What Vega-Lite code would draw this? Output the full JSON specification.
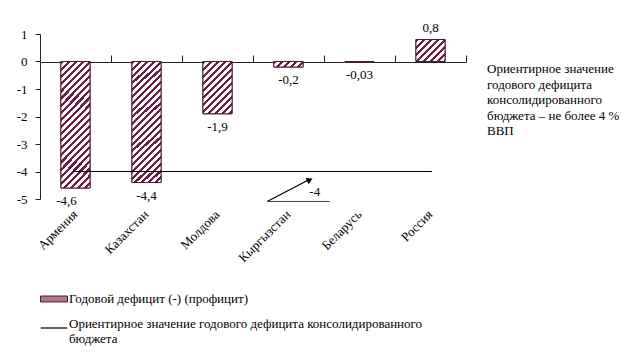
{
  "$schema": "https://vega.github.io/schema/vega-lite/v6.json",
  "autosize": {"type": "none"},
  "width": 426,
  "height": 165,
  "padding": {"left": 40, "top": 34, "right": 177, "bottom": 159},
  "background": "white",
  "config": {
    "view": {"stroke": null},
    "locale": {"number": {"decimal": ",", "thousands": " ", "grouping": [3], "currency": ["", ""], "minus": "-"}},
    "font": "Liberation Serif",
    "text": {"font": "Liberation Serif", "fontSize": 13, "color": "black"},
    "axisY": {"title": null, "values": [-5, -4, -3, -2, -1, 0, 1], "format": "d",
              "grid": false, "domainColor": "#222", "tickColor": "#222",
              "tickSize": 5, "labelPadding": 8, "labelFont": "Liberation Serif",
              "labelFontSize": 13, "labelColor": "black", "labelOverlap": false},
    "axisTop": {"ticks": true, "tickSize": 7, "tickWidth": 1, "tickOpacity": 1, "domainColor": "#222", "tickColor": "#222", "grid": false, "labels": false, "title": null}
  },
  "resolve": {"scale": {"x": "independent"}},
  "layer": [
    {
      "data": {"values": [
        {"country": "Армения", "value": -4.6},
        {"country": "Казахстан", "value": -4.4},
        {"country": "Молдова", "value": -1.9},
        {"country": "Кыргызстан", "value": -0.2},
        {"country": "Беларусь", "value": -0.03},
        {"country": "Россия", "value": 0.8}
      ]},
      "encoding": {
        "x": {"field": "country", "type": "nominal", "sort": null,
              "scale": {"paddingInner": 0, "paddingOuter": 0},
              "axis": {"title": null, "orient": "bottom", "domain": false, "ticks": false,
                       "labelAngle": -45, "labelAlign": "right", "labelBaseline": "middle",
                       "labelPadding": 13, "labelFont": "Liberation Serif", "labelFontSize": 13,
                       "labelColor": "black", "labelOverlap": false}},
        "y": {"field": "value", "type": "quantitative",
              "scale": {"domain": [-5, 1], "nice": false, "zero": false}}
      },
      "layer": [
        {
          "mark": {"type": "bar", "width": {"band": 0.41}, "stroke": "#4a1a33", "strokeWidth": 1},
          "encoding": {
            "fill": {"datum": "Годовой дефицит (-) (профицит)", "type": "nominal",
                     "scale": {"range": ["#b0788f"]},
                     "legend": {"orient": "none", "legendX": 0, "legendY": 251, "title": null,
                                "symbolType": "M-1,-0.22L1,-0.22L1,0.22L-1,0.22Z", "symbolSize": 729,
                                "symbolStrokeColor": "#4a1a33", "symbolStrokeWidth": 1,
                                "labelFont": "Liberation Serif", "labelFontSize": 13,
                                "labelColor": "black", "labelOffset": 1, "labelLimit": 500}}
          }
        },
        {
          "transform": [{"filter": "datum.country === 'Армения' || datum.country === 'Казахстан'"}],
          "mark": {"type": "bar", "width": {"band": 0.41}, "stroke": "#4a1a33", "strokeWidth": 1,
                   "fill": {"gradient": "linear", "x1": 0, "y1": 0, "x2": 0.275, "y2": 1.17, "stops": [
                     {"offset": 0, "color": "#6e1f45"}, {"offset": 0.0205, "color": "#6e1f45"}, {"offset": 0.0205, "color": "#ffffff"}, {"offset": 0.0455, "color": "#ffffff"},
                     {"offset": 0.0455, "color": "#6e1f45"}, {"offset": 0.066, "color": "#6e1f45"}, {"offset": 0.066, "color": "#ffffff"}, {"offset": 0.091, "color": "#ffffff"},
                     {"offset": 0.091, "color": "#6e1f45"}, {"offset": 0.1115, "color": "#6e1f45"}, {"offset": 0.1115, "color": "#ffffff"}, {"offset": 0.1365, "color": "#ffffff"},
                     {"offset": 0.1365, "color": "#6e1f45"}, {"offset": 0.157, "color": "#6e1f45"}, {"offset": 0.157, "color": "#ffffff"}, {"offset": 0.182, "color": "#ffffff"},
                     {"offset": 0.182, "color": "#6e1f45"}, {"offset": 0.2025, "color": "#6e1f45"}, {"offset": 0.2025, "color": "#ffffff"}, {"offset": 0.2275, "color": "#ffffff"},
                     {"offset": 0.2275, "color": "#6e1f45"}, {"offset": 0.248, "color": "#6e1f45"}, {"offset": 0.248, "color": "#ffffff"}, {"offset": 0.273, "color": "#ffffff"},
                     {"offset": 0.273, "color": "#6e1f45"}, {"offset": 0.2935, "color": "#6e1f45"}, {"offset": 0.2935, "color": "#ffffff"}, {"offset": 0.3185, "color": "#ffffff"},
                     {"offset": 0.3185, "color": "#6e1f45"}, {"offset": 0.339, "color": "#6e1f45"}, {"offset": 0.339, "color": "#ffffff"}, {"offset": 0.364, "color": "#ffffff"},
                     {"offset": 0.364, "color": "#6e1f45"}, {"offset": 0.3845, "color": "#6e1f45"}, {"offset": 0.3845, "color": "#ffffff"}, {"offset": 0.4095, "color": "#ffffff"},
                     {"offset": 0.4095, "color": "#6e1f45"}, {"offset": 0.43, "color": "#6e1f45"}, {"offset": 0.43, "color": "#ffffff"}, {"offset": 0.455, "color": "#ffffff"},
                     {"offset": 0.455, "color": "#6e1f45"}, {"offset": 0.4755, "color": "#6e1f45"}, {"offset": 0.4755, "color": "#ffffff"}, {"offset": 0.5005, "color": "#ffffff"},
                     {"offset": 0.5005, "color": "#6e1f45"}, {"offset": 0.521, "color": "#6e1f45"}, {"offset": 0.521, "color": "#ffffff"}, {"offset": 0.546, "color": "#ffffff"},
                     {"offset": 0.546, "color": "#6e1f45"}, {"offset": 0.5665, "color": "#6e1f45"}, {"offset": 0.5665, "color": "#ffffff"}, {"offset": 0.5915, "color": "#ffffff"},
                     {"offset": 0.5915, "color": "#6e1f45"}, {"offset": 0.612, "color": "#6e1f45"}, {"offset": 0.612, "color": "#ffffff"}, {"offset": 0.637, "color": "#ffffff"},
                     {"offset": 0.637, "color": "#6e1f45"}, {"offset": 0.6575, "color": "#6e1f45"}, {"offset": 0.6575, "color": "#ffffff"}, {"offset": 0.6825, "color": "#ffffff"},
                     {"offset": 0.6825, "color": "#6e1f45"}, {"offset": 0.703, "color": "#6e1f45"}, {"offset": 0.703, "color": "#ffffff"}, {"offset": 0.728, "color": "#ffffff"},
                     {"offset": 0.728, "color": "#6e1f45"}, {"offset": 0.7485, "color": "#6e1f45"}, {"offset": 0.7485, "color": "#ffffff"}, {"offset": 0.7735, "color": "#ffffff"},
                     {"offset": 0.7735, "color": "#6e1f45"}, {"offset": 0.794, "color": "#6e1f45"}, {"offset": 0.794, "color": "#ffffff"}, {"offset": 0.819, "color": "#ffffff"},
                     {"offset": 0.819, "color": "#6e1f45"}, {"offset": 0.8395, "color": "#6e1f45"}, {"offset": 0.8395, "color": "#ffffff"}, {"offset": 0.8645, "color": "#ffffff"},
                     {"offset": 0.8645, "color": "#6e1f45"}, {"offset": 0.885, "color": "#6e1f45"}, {"offset": 0.885, "color": "#ffffff"}, {"offset": 0.91, "color": "#ffffff"},
                     {"offset": 0.91, "color": "#6e1f45"}, {"offset": 0.9305, "color": "#6e1f45"}, {"offset": 0.9305, "color": "#ffffff"}, {"offset": 0.9555, "color": "#ffffff"},
                     {"offset": 0.9555, "color": "#6e1f45"}, {"offset": 0.976, "color": "#6e1f45"}, {"offset": 0.976, "color": "#ffffff"}, {"offset": 1, "color": "#ffffff"}
                   ]}}
        },
        {
          "transform": [{"filter": "datum.country === 'Молдова'"}],
          "mark": {"type": "bar", "width": {"band": 0.41}, "stroke": "#4a1a33", "strokeWidth": 1,
                   "fill": {"gradient": "linear", "x1": 0, "y1": 0, "x2": 0.6618, "y2": 1.1883, "stops": [
                     {"offset": 0, "color": "#6e1f45"}, {"offset": 0.0387, "color": "#6e1f45"}, {"offset": 0.0387, "color": "#ffffff"}, {"offset": 0.086, "color": "#ffffff"},
                     {"offset": 0.086, "color": "#6e1f45"}, {"offset": 0.1247, "color": "#6e1f45"}, {"offset": 0.1247, "color": "#ffffff"}, {"offset": 0.172, "color": "#ffffff"},
                     {"offset": 0.172, "color": "#6e1f45"}, {"offset": 0.2107, "color": "#6e1f45"}, {"offset": 0.2107, "color": "#ffffff"}, {"offset": 0.258, "color": "#ffffff"},
                     {"offset": 0.258, "color": "#6e1f45"}, {"offset": 0.2967, "color": "#6e1f45"}, {"offset": 0.2967, "color": "#ffffff"}, {"offset": 0.344, "color": "#ffffff"},
                     {"offset": 0.344, "color": "#6e1f45"}, {"offset": 0.3827, "color": "#6e1f45"}, {"offset": 0.3827, "color": "#ffffff"}, {"offset": 0.43, "color": "#ffffff"},
                     {"offset": 0.43, "color": "#6e1f45"}, {"offset": 0.4687, "color": "#6e1f45"}, {"offset": 0.4687, "color": "#ffffff"}, {"offset": 0.516, "color": "#ffffff"},
                     {"offset": 0.516, "color": "#6e1f45"}, {"offset": 0.5547, "color": "#6e1f45"}, {"offset": 0.5547, "color": "#ffffff"}, {"offset": 0.602, "color": "#ffffff"},
                     {"offset": 0.602, "color": "#6e1f45"}, {"offset": 0.6407, "color": "#6e1f45"}, {"offset": 0.6407, "color": "#ffffff"}, {"offset": 0.688, "color": "#ffffff"},
                     {"offset": 0.688, "color": "#6e1f45"}, {"offset": 0.7267, "color": "#6e1f45"}, {"offset": 0.7267, "color": "#ffffff"}, {"offset": 0.774, "color": "#ffffff"},
                     {"offset": 0.774, "color": "#6e1f45"}, {"offset": 0.8127, "color": "#6e1f45"}, {"offset": 0.8127, "color": "#ffffff"}, {"offset": 0.86, "color": "#ffffff"},
                     {"offset": 0.86, "color": "#6e1f45"}, {"offset": 0.8987, "color": "#6e1f45"}, {"offset": 0.8987, "color": "#ffffff"}, {"offset": 0.946, "color": "#ffffff"},
                     {"offset": 0.946, "color": "#6e1f45"}, {"offset": 0.9847, "color": "#6e1f45"}, {"offset": 0.9847, "color": "#ffffff"}, {"offset": 1, "color": "#ffffff"}
                   ]}}
        },
        {
          "transform": [{"filter": "datum.country === 'Кыргызстан'"}],
          "mark": {"type": "bar", "width": {"band": 0.41}, "stroke": "#4a1a33", "strokeWidth": 1,
                   "fill": {"gradient": "linear", "x1": 0, "y1": 0, "x2": 1.148, "y2": 0.217, "stops": [
                     {"offset": 0, "color": "#6e1f45"}, {"offset": 0.09, "color": "#6e1f45"}, {"offset": 0.09, "color": "#ffffff"}, {"offset": 0.2, "color": "#ffffff"},
                     {"offset": 0.2, "color": "#6e1f45"}, {"offset": 0.29, "color": "#6e1f45"}, {"offset": 0.29, "color": "#ffffff"}, {"offset": 0.4, "color": "#ffffff"},
                     {"offset": 0.4, "color": "#6e1f45"}, {"offset": 0.49, "color": "#6e1f45"}, {"offset": 0.49, "color": "#ffffff"}, {"offset": 0.6, "color": "#ffffff"},
                     {"offset": 0.6, "color": "#6e1f45"}, {"offset": 0.69, "color": "#6e1f45"}, {"offset": 0.69, "color": "#ffffff"}, {"offset": 0.8, "color": "#ffffff"},
                     {"offset": 0.8, "color": "#6e1f45"}, {"offset": 0.89, "color": "#6e1f45"}, {"offset": 0.89, "color": "#ffffff"}, {"offset": 1, "color": "#ffffff"}
                   ]}}
        },
        {
          "transform": [{"filter": "datum.country === 'Россия'"}],
          "mark": {"type": "bar", "width": {"band": 0.41}, "stroke": "#4a1a33", "strokeWidth": 1,
                   "fill": {"gradient": "linear", "x1": 0, "y1": 0, "x2": 1.1174, "y2": 0.8448, "stops": [
                     {"offset": 0, "color": "#6e1f45"}, {"offset": 0.0617, "color": "#6e1f45"}, {"offset": 0.0617, "color": "#ffffff"}, {"offset": 0.137, "color": "#ffffff"},
                     {"offset": 0.137, "color": "#6e1f45"}, {"offset": 0.1987, "color": "#6e1f45"}, {"offset": 0.1987, "color": "#ffffff"}, {"offset": 0.274, "color": "#ffffff"},
                     {"offset": 0.274, "color": "#6e1f45"}, {"offset": 0.3357, "color": "#6e1f45"}, {"offset": 0.3357, "color": "#ffffff"}, {"offset": 0.411, "color": "#ffffff"},
                     {"offset": 0.411, "color": "#6e1f45"}, {"offset": 0.4727, "color": "#6e1f45"}, {"offset": 0.4727, "color": "#ffffff"}, {"offset": 0.548, "color": "#ffffff"},
                     {"offset": 0.548, "color": "#6e1f45"}, {"offset": 0.6097, "color": "#6e1f45"}, {"offset": 0.6097, "color": "#ffffff"}, {"offset": 0.685, "color": "#ffffff"},
                     {"offset": 0.685, "color": "#6e1f45"}, {"offset": 0.7467, "color": "#6e1f45"}, {"offset": 0.7467, "color": "#ffffff"}, {"offset": 0.822, "color": "#ffffff"},
                     {"offset": 0.822, "color": "#6e1f45"}, {"offset": 0.8837, "color": "#6e1f45"}, {"offset": 0.8837, "color": "#ffffff"}, {"offset": 0.959, "color": "#ffffff"},
                     {"offset": 0.959, "color": "#6e1f45"}, {"offset": 1, "color": "#6e1f45"}
                   ]}}
        },
        {
          "transform": [{"filter": "datum.value < 0 && datum.country !== 'Армения'"}],
          "mark": {"type": "text", "baseline": "middle", "dy": 13},
          "encoding": {"text": {"field": "value", "type": "quantitative", "format": ".2~f"}}
        },
        {
          "transform": [{"filter": "datum.country === 'Армения'"}],
          "mark": {"type": "text", "baseline": "middle", "dy": 13, "dx": -9},
          "encoding": {"text": {"field": "value", "type": "quantitative", "format": ".2~f"}}
        },
        {
          "transform": [{"filter": "datum.value > 0"}],
          "mark": {"type": "text", "baseline": "middle", "dy": -12},
          "encoding": {"text": {"field": "value", "type": "quantitative", "format": ".2~f"}}
        }
      ]
    },
    {
      "data": {"values": [{"note": "Ориентирное значение\nгодового дефицита\nконсолидированного\nбюджета – не более 4 %\nВВП", "threshold": -4}]},
      "layer": [
        {
          "mark": {"type": "rule", "color": "black", "strokeWidth": 1},
          "encoding": {
            "x": {"datum": 0.46, "type": "quantitative",
                  "scale": {"domain": [0, 6], "nice": false, "zero": false},
                  "axis": {"orient": "top", "offset": -28, "values": [0, 1, 2, 3, 4, 5, 6], "ticks": true, "tickSize": 7}},
            "x2": {"datum": 5.52},
            "y": {"field": "threshold", "type": "quantitative"},
            "stroke": {"datum": "Ориентирное значение годового дефицита консолидированного\nбюджета", "type": "nominal",
                       "scale": {"range": ["black"]},
                       "legend": {"orient": "none", "legendX": 0, "legendY": 280, "title": null,
                                  "symbolType": "stroke", "symbolSize": 700, "symbolStrokeWidth": 1.2,
                                  "labelFont": "Liberation Serif", "labelFontSize": 13,
                                  "labelColor": "black", "labelOffset": 1, "labelLimit": 600,
                                  "labelBaseline": "alphabetic",
                                  "labelExpr": "split(datum.label, '\\n')"}}
          }
        },
        {
          "mark": {"type": "rule", "color": "black", "strokeWidth": 1.2},
          "encoding": {
            "x": {"datum": 3.2, "type": "quantitative", "axis": {"orient": "top", "offset": -28, "values": [0, 1, 2, 3, 4, 5, 6], "ticks": true, "tickSize": 7}},
            "x2": {"datum": 3.8},
            "y": {"datum": -5.09, "type": "quantitative"},
            "y2": {"datum": -4.28}
          }
        },
        {
          "mark": {"type": "point", "shape": "triangle-up", "filled": true, "color": "black", "size": 50, "angle": 63.4, "opacity": 1},
          "encoding": {
            "x": {"datum": 3.8, "type": "quantitative", "axis": {"orient": "top", "offset": -28, "values": [0, 1, 2, 3, 4, 5, 6], "ticks": true, "tickSize": 7}},
            "y": {"datum": -4.3, "type": "quantitative"}
          }
        },
        {
          "mark": {"type": "rule", "color": "#444", "strokeWidth": 1},
          "encoding": {
            "x": {"datum": 3.2, "type": "quantitative", "axis": {"orient": "top", "offset": -28, "values": [0, 1, 2, 3, 4, 5, 6], "ticks": true, "tickSize": 7}},
            "x2": {"datum": 4.08},
            "y": {"datum": -5.09, "type": "quantitative"}
          }
        },
        {
          "mark": {"type": "text", "baseline": "middle", "align": "center"},
          "encoding": {
            "x": {"datum": 3.87, "type": "quantitative", "axis": {"orient": "top", "offset": -28, "values": [0, 1, 2, 3, 4, 5, 6], "ticks": true, "tickSize": 7}},
            "y": {"datum": -4.76, "type": "quantitative"},
            "text": {"field": "threshold", "type": "quantitative", "format": "d"}
          }
        },
        {
          "mark": {"type": "text", "baseline": "middle", "align": "left", "lineHeight": 15.5, "lineBreak": "\n"},
          "encoding": {
            "x": {"datum": 6.296, "type": "quantitative", "axis": {"orient": "top", "offset": -28, "values": [0, 1, 2, 3, 4, 5, 6], "ticks": true, "tickSize": 7}},
            "y": {"datum": -0.29, "type": "quantitative"},
            "text": {"field": "note", "type": "nominal"}
          }
        }
      ]
    }
  ]
}
